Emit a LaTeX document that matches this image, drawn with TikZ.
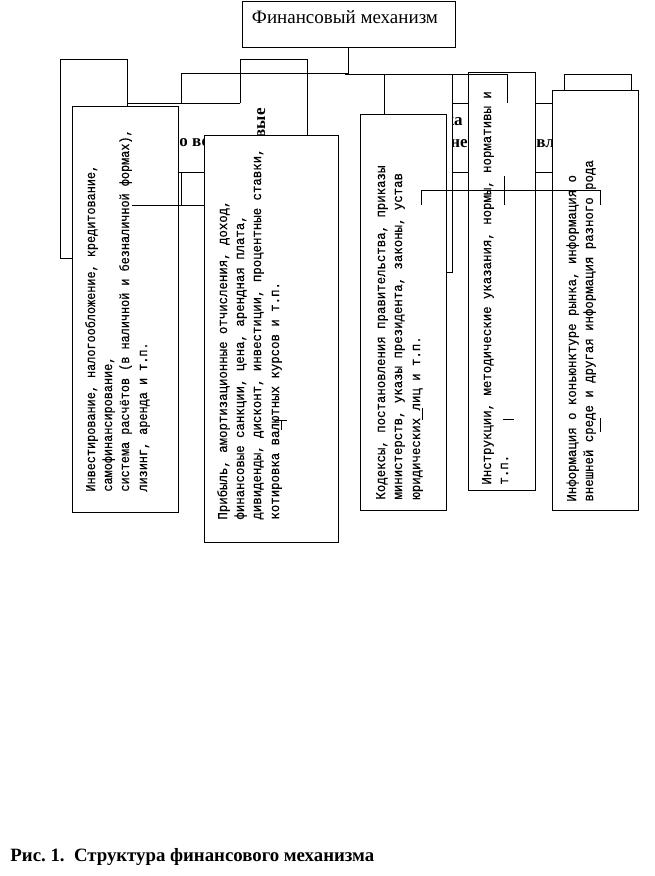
\documentclass[tikz,border=0pt]{standalone}
\usepackage{fontspec}
\setmainfont{Liberation Serif}
\newfontfamily\boxfont[FakeStretch=0.93,FakeBold=0.4]{Liberation Mono}
\newfontfamily\boxfontc[FakeStretch=0.89,FakeBold=0.4]{Liberation Mono}
\frenchspacing
\begin{document}
\begin{tikzpicture}[x=1pt,y=-1pt,line width=0.9pt,
  frame/.style={draw,fill=white,anchor=north west,inner sep=0pt,outer sep=0pt},
  vtext/.style={rotate=90,anchor=base west,inner sep=0pt,font=\boxfont\fontsize{13.3}{15}\selectfont},
  vtextc/.style={vtext,font=\boxfontc\fontsize{13.3}{15}\selectfont},
  btext/.style={inner sep=0pt,font=\bfseries\fontsize{17}{20}\selectfont},
  conn/.style={draw,line width=0.9pt}]
\useasboundingbox[fill=white] (0,0) rectangle (654,876);
% top box
\node[frame,minimum width=213pt,minimum height=45.5pt] (top) at (242,1.5) {};
\node[inner sep=0pt,anchor=base,font=\fontsize{19}{21}\selectfont] (toptext) at (345,23) {Финансовый механизм};
% back boxes
\node[frame,minimum width=67pt,minimum height=199pt] (A) at (60,59) {};
\coordinate (b1) at (240,103); \coordinate (b2) at (240,59);
\coordinate (b3) at (307,59); \coordinate (b4) at (307,135);
\draw[conn] (b1) -- (b2) -- (b3) -- (b4);
\node[btext,rotate=90,anchor=base east] (bword) at (265,108) {овые};
% wide left box fragments
\coordinate (wl1) at (128,103); \coordinate (wl2) at (178,172); \coordinate (wl3) at (204,172);
\draw[conn] (wl1) -- (b1);
\draw[conn] (wl2) -- (wl3);
\node[btext,anchor=base west] (wltext) at (179,146) {о вс};
% stem and left branch
\coordinate (s1) at (348,73); \coordinate (s2) at (181,73); \coordinate (s3) at (181,103);
\draw[conn] (top.south -| s1) -- (s1) -- (s2) -- (s3);
% wide right box fragments
\coordinate (wr1) at (452,103); \coordinate (wr2) at (552,103);
\coordinate (wr3) at (452,172); \coordinate (wr4) at (552,172);
\draw[conn] (wr1) -- (wr2);
\draw[conn] (wr3) -- (wr4);
\node[btext,anchor=base east] (wrtext1) at (463,125) {ка};
\node[btext,anchor=base west] (wrtext2) at (450,147) {нен};
\node[btext,anchor=base west] (wrtext3) at (536,147) {вл};
\node[frame,minimum width=68pt,minimum height=197.5pt] (P) at (384,74.5) {};
\node[frame,minimum width=67pt,minimum height=30pt] (G) at (564,74) {};
% box C
\node[frame,minimum width=106pt,minimum height=406pt] (C) at (72,106) {};
\node[vtextc] (c1) at (95,492) {Инвестирование, налогообложение, кредитование,};
\node[vtextc] (c2) at (112,492) {самофинансирование,};
\node[vtextc] (c3) at (129,492) {система расчётов (в наличной и безналичной формах),};
\node[vtextc] (c4) at (147,492) {лизинг, аренда и т.п.};
% left connector
\coordinate (l1) at (181,172); \coordinate (l2) at (181,205);
\coordinate (l3) at (132,205); \coordinate (l4) at (204,205);
\draw[conn] (l1) -- (l2);
\draw[conn] (l3) -- (l4);
% box E
\node[frame,minimum width=134pt,minimum height=407pt] (E) at (204,135) {};
\node[vtext] (e1) at (227,520) {Прибыль, амортизационные отчисления, доход,};
\node[vtext] (e2) at (244,520) {финансовые санкции, цена, арендная плата,};
\node[vtext] (e3) at (261,520) {дивиденды, дисконт, инвестиции, процентные ставки,};
\node[vtext] (e4) at (279,520) {котировка валютных курсов и т.п.};
% box D
\node[frame,minimum width=86pt,minimum height=396pt] (D) at (360,114) {};
\node[vtext] (d1) at (385,500) {Кодексы, постановления правительства, приказы};
\node[vtext] (d2) at (402,500) {министерств, указы президента, законы, устав};
\node[vtext] (d3) at (420,500) {юридических лиц и т.п.};
% box F
\node[frame,minimum width=67pt,minimum height=418pt] (F) at (468,72) {};
\node[vtext] (f1) at (491,485) {Инструкции, методические указания, нормы, нормативы и};
\node[vtext] (f2) at (508,485) {т.п.};
% box H
\node[frame,minimum width=86pt,minimum height=420pt] (H) at (552,90) {};
\node[vtext] (h1) at (576,502) {Информация о коньюнктуре рынка, информация о};
\node[vtext] (h2) at (593,502) {внешней среде и другая информация разного рода};
% right branch over F
\coordinate (r1) at (345,74.5); \coordinate (r2) at (507,74.5); \coordinate (r3) at (507,103);
\draw[conn] (r1) -- (r2) -- (r3);
% crossing connector
\coordinate (x1) at (421,205); \coordinate (x2) at (421,190);
\coordinate (x3) at (600,190); \coordinate (x4) at (600,205);
\coordinate (x5) at (504,176); \coordinate (x6) at (504,205);
\draw[conn] (x1) -- (x2) -- (x3) -- (x4);
\draw[conn] (x5) -- (x6);
% small marks
\coordinate (m1) at (275,420); \coordinate (m2) at (287,420);
\coordinate (m3) at (281,420); \coordinate (m4) at (281,430);
\draw[conn] (m1) -- (m2); \draw[conn] (m3) -- (m4);
\coordinate (m5) at (422,408); \coordinate (m6) at (422,420);
\draw[conn] (m5) -- (m6);
\coordinate (m7) at (503,419); \coordinate (m8) at (514,419);
\draw[conn] (m7) -- (m8);
\coordinate (m9) at (600,418); \coordinate (m10) at (600,432);
\draw[conn] (m9) -- (m10);
% caption
\node[inner sep=0pt,anchor=base west,font=\bfseries\fontsize{18.8}{21}\selectfont] (cap) at (10,861) {Рис.~1.\ \ Структура финансового механизма};
\end{tikzpicture}
\end{document}
